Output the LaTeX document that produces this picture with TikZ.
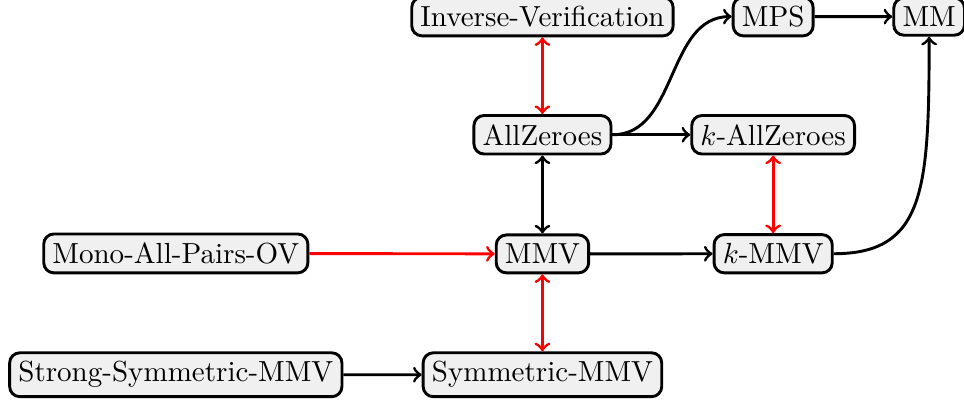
\documentclass[tikz,border=0pt]{standalone}
\tikzset{
  prob/.style={draw, fill=black!6, rounded corners=3.5pt, line width=1pt, inner sep=3pt, anchor=base},
  arr/.style={->, line width=1pt},
  dbl/.style={<->, line width=1pt}
}
\begin{document}
\begin{tikzpicture}[x=0.75pt,y=0.75pt,yscale=-1,xscale=1]
\useasboundingbox (0,0) rectangle (442.5,184.5);

% Text Node
\node [prob] (inv) at (249,12.16) {Inverse-Verification};
% Text Node
\node [prob] (mps) at (354.9,12.16) {MPS};
% Text Node
\node [prob] (mm) at (426.5,12.16) {MM};
% Text Node
\node [prob] (az) at (249,66.56) {AllZeroes};
% Text Node
\node [prob] (kaz) at (354.9,66.56) {$k$-AllZeroes};
% Text Node
\node [prob] (mono) at (80.7,120.95) {Mono-All-Pairs-OV};
% Text Node
\node [prob] (mmv) at (249,120.95) {MMV};
% Text Node
\node [prob] (kmmv) at (354.9,120.95) {$k$-MMV};
% Text Node
\node [prob] (strong) at (80.7,175.34) {Strong-Symmetric-MMV};
% Text Node
\node [prob] (sym) at (249,175.34) {Symmetric-MMV};

%Straight Lines
\draw [dbl, red] (inv) -- (az);
\draw [dbl] (az) -- (mmv);
\draw [dbl, red] (mmv) -- (sym);
\draw [dbl, red] (kaz) -- (kmmv);
\draw [arr, red] (mono) -- (mmv);
\draw [arr] (mmv) -- (kmmv);
\draw [arr] (az) -- (kaz);
\draw [arr] (mps) -- (mm);
\draw [arr] (strong) -- (sym);
%Curve Lines
\draw [arr] (az.east) .. controls +(30,0) and +(-30,0) .. (mps.west);
\draw [arr] (kmmv.east) .. controls +(42,0) and +(0,70) .. (mm.south);

\end{tikzpicture}
\end{document}
